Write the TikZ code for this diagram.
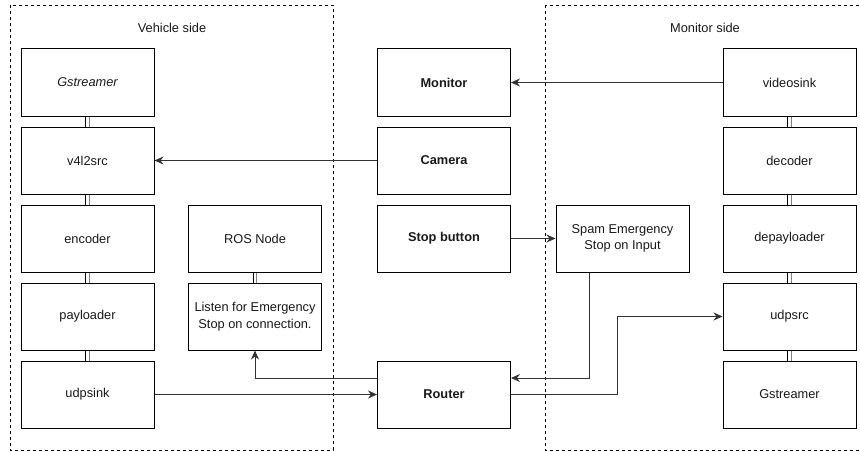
\documentclass[tikz,border=0pt]{standalone}
\usepackage{fontspec}
\setmainfont{Liberation Sans}
\usetikzlibrary{arrows.meta,calc}
\definecolor{txt}{HTML}{1a1a1a}
\definecolor{ln}{HTML}{333333}
\tikzset{
  blk/.style={draw=black,line width=1pt,minimum width=133pt,minimum height=67pt,inner sep=2pt,align=center,text=txt,font=\fontsize{12.8}{16.5}\selectfont},
  grp/.style={draw=black,line width=0.8pt,dash pattern=on 3pt off 3pt},
  arr/.style={draw=ln,line width=0.9pt,-{Stealth[length=9pt,width=8pt,inset=3pt]}},
  lnk/.style={line width=1pt},
  lbl/.style={text=txt,font=\fontsize{12.8}{15}\selectfont}
}
\newcommand{\linkpair}[2]{%
  \draw[lnk,black] ($(#1.south)+(-1.8,0)$) -- ($(#2.north)+(-1.8,0)$);
  \draw[lnk,gray] ($(#1.south)+(1.8,0)$) -- ($(#2.north)+(1.8,0)$);
}
\begin{document}
\begin{tikzpicture}[x=1pt,y=-1pt]
\useasboundingbox (0,0) rectangle (860,452);
\fill[white] (0,0) rectangle (860,452);
% groups
\draw[grp] (10,5) rectangle (333,450);
\draw[grp] (545,5) rectangle (875,450);
\node[lbl] (vs) at (172,28) {Vehicle side};
\node[lbl] (ms) at (705,28) {Monitor side};
% left column
\node[blk] (gst) at (87.5,82.5) {\itshape Gstreamer};
\node[blk] (v4l) at (87.5,160.5) {v4l2src};
\node[blk] (enc) at (87.5,238.5) {encoder};
\node[blk] (pay) at (87.5,316.5) {payloader};
\node[blk] (uds) at (87.5,394.5) {udpsink};
% ROS
\node[blk] (ros) at (255,238.5) {ROS Node};
\node[blk] (lis) at (255,316.5) {Listen for Emergency\\Stop on connection.};
% middle
\node[blk] (mon) at (444,82.5) {\bfseries Monitor};
\node[blk] (cam) at (444,160.5) {\bfseries Camera};
\node[blk] (stp) at (444,238.5) {\bfseries Stop button};
\node[blk] (rtr) at (444,394.5) {\bfseries Router};
% spam
\node[blk] (spm) at (622.5,238.5) {Spam Emergency\\Stop on Input};
% right column
\node[blk] (vsk) at (789.5,82.5) {videosink};
\node[blk] (dec) at (789.5,160.5) {decoder};
\node[blk] (dep) at (789.5,238.5) {depayloader};
\node[blk] (usr) at (789.5,316.5) {udpsrc};
\node[blk] (gs2) at (789.5,394.5) {Gstreamer};
% links
\linkpair{gst}{v4l}
\linkpair{v4l}{enc}
\linkpair{enc}{pay}
\linkpair{pay}{uds}
\linkpair{ros}{lis}
\linkpair{vsk}{dec}
\linkpair{dec}{dep}
\linkpair{dep}{usr}
\linkpair{usr}{gs2}
% arrows
\draw[arr] (vsk.west) -- (mon.east);
\draw[arr] (cam.west) -- (v4l.east);
\draw[arr] (stp.east) -- (spm.west);
\draw[arr] (uds.east) -- (rtr.west);
\draw[arr] (rtr.west |- 0,378) -| (lis.south);
\draw[arr] (spm.south -| 589,0) |- (rtr.east |- 0,378);
\draw[arr] (rtr.east) -| (617,316.5) -- (usr.west);
\end{tikzpicture}
\end{document}
